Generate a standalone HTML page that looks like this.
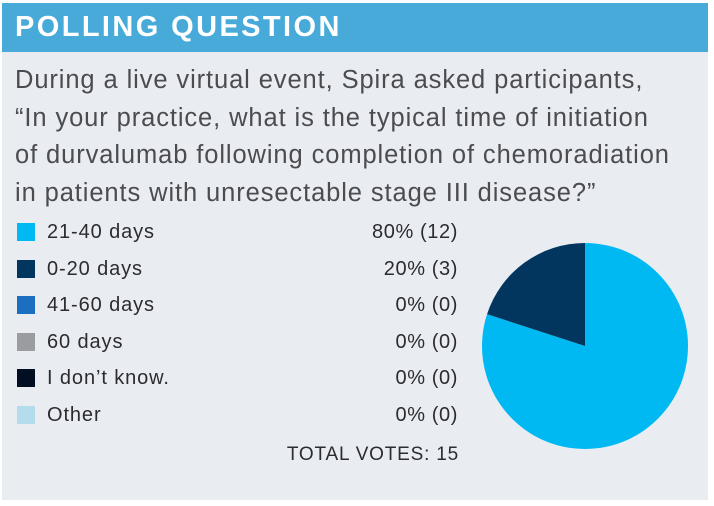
<!DOCTYPE html>
<html><head><meta charset="utf-8"><style>
body{margin:0;width:714px;height:506px;background:#fff;font-family:"Liberation Sans",sans-serif;overflow:hidden}
#panel{position:absolute;left:2px;top:3px;width:706px;height:497px;background:#e9edf2}
#hdr{position:absolute;left:0;top:0;width:706px;height:49px;background:#48aad8}
#title{position:absolute;left:13px;top:8px;color:#fff;font-weight:bold;font-size:29px;letter-spacing:2.4px}
#q{position:absolute;left:13px;top:59px;width:700px;color:#4b4b50;font-size:25.5px;line-height:37.5px;letter-spacing:0.9px;white-space:nowrap}
.row{position:absolute;left:15px;height:20px;font-size:20px;color:#2b2b30;line-height:20px}
.sw{position:absolute;left:0;top:1px;width:18px;height:18px}
.lb{position:absolute;left:30px;top:0;white-space:nowrap;letter-spacing:0.9px}
.val{position:absolute;left:280px;width:161px;top:0;text-align:right;white-space:nowrap;letter-spacing:0.6px}
#total{position:absolute;left:220px;width:237px;top:441px;text-align:right;font-size:19px;color:#2b2b30;letter-spacing:0.8px}
svg{position:absolute;left:0;top:0}
</style></head><body>
<div id="panel">
<div id="hdr"><div id="title">POLLING QUESTION</div></div>
<div id="q">During a live virtual event, Spira asked participants,<br>“In your practice, what is the typical time of initiation<br>of durvalumab following completion of chemoradiation<br>in patients with unresectable stage III disease?”</div>
<div id="legend"></div>
<div id="total">TOTAL VOTES: 15</div>
</div>
<svg id="pie" width="714" height="506"></svg>
<script>
const categories=["21-40 days","0-20 days","41-60 days","60 days","I don’t know.","Other"];
const votes=[12,3,0,0,0,0];
const colors=["#00b9f2","#02365e","#1a6fc0","#9a9ca0","#020f22","#b3dded"];
const total=votes.reduce((a,b)=>a+b,0);
const legend=document.getElementById('legend');
categories.forEach((c,i)=>{
 const r=document.createElement('div');r.className='row';r.style.top=(219+i*36.5)+'px';
 
 
 const pct=total?Math.round(votes[i]/total*100):0;
 r.innerHTML='<div class="sw" style="background:'+colors[i]+'"></div><div class="lb">'+c+'</div><div class="val">'+pct+'% ('+votes[i]+')</div>';
 legend.appendChild(r);
});
const svg=document.getElementById('pie');const cx=585,cy=346,R=103;
let a=0;
votes.forEach((v,i)=>{
 if(!v)return;const f=v/total;const a2=a+f*2*Math.PI;
 const x1=cx+R*Math.sin(a),y1=cy-R*Math.cos(a),x2=cx+R*Math.sin(a2),y2=cy-R*Math.cos(a2);
 let el;
 if(f>=0.9999){el=document.createElementNS('http://www.w3.org/2000/svg','circle');el.setAttribute('cx',cx);el.setAttribute('cy',cy);el.setAttribute('r',R);}
 else{el=document.createElementNS('http://www.w3.org/2000/svg','path');
 el.setAttribute('d',`M${cx},${cy}L${x1},${y1}A${R},${R} 0 ${f>0.5?1:0} 1 ${x2},${y2}Z`);}
 el.setAttribute('fill',colors[i]);
 
 
 svg.appendChild(el);a=a2;
});
</script>
</body></html>
